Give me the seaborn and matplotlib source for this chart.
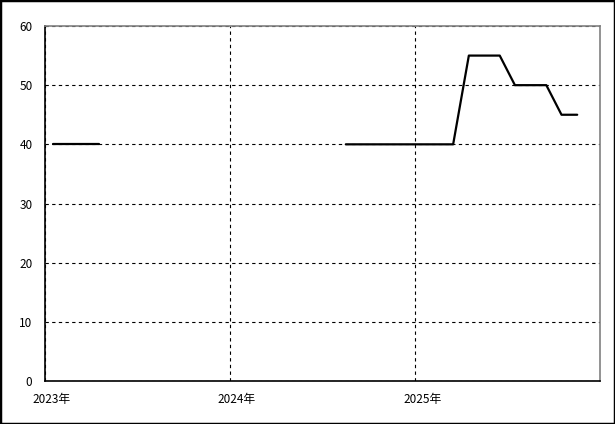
import numpy as np
import pandas as pd
import matplotlib
matplotlib.use("Agg")
import matplotlib.pyplot as plt
import matplotlib.transforms as mtransforms
from matplotlib.patches import Rectangle
import seaborn as sns

# ---- data (monthly, mid-month) ----
months = pd.date_range("2023-01-01", periods=35, freq="MS") + pd.Timedelta(days=16)
values = [40, 40, 40, 40,                                   # 2023-01..04
          None, None, None, None, None, None, None, None,   # 2023-05..12
          None, None, None, None, None, None, None,         # 2024-01..07
          40, 40, 40, 40, 40,                               # 2024-08..12
          40, 40, 40,                                       # 2025-01..03
          55, 55, 55,                                       # 2025-04..06
          50, 50, 50,                                       # 2025-07..09
          45, 45]                                           # 2025-10..11
year_ticks = ["2023-01-01", "2024-01-01", "2025-01-01"]
year_labels = ["2023年", "2024年", "2025年"]
y_ticks = [0, 10, 20, 30, 40, 50, 60]

df = pd.DataFrame({"date": months, "value": pd.array(values, dtype="Float64").astype(float)})
df["seg"] = df["value"].isna().cumsum()
df = df.dropna()

sns.set_style("white")
plt.rcParams["font.family"] = ["Noto Sans CJK JP", "DejaVu Sans"]

fig = plt.figure(figsize=(6.15, 4.24), dpi=100)
ax = fig.add_axes([45/615, 1-381/424, 555/615, 355/424])

sns.lineplot(data=df, x="date", y="value", units="seg", estimator=None,
             color="black", linewidth=1.6, ax=ax, legend=False)

ax.set_xlim(pd.Timestamp("2023-01-01"), pd.Timestamp("2026-01-01"))
ax.set_ylim(0, 60)
ax.set_xticks(pd.to_datetime(year_ticks))
ax.set_xticklabels(year_labels)
ax.set_yticks(y_ticks)
ax.set_xlabel("")
ax.set_ylabel("")

ax.set_axisbelow(True)
ax.grid(True, color="black", linestyle=(0, (3, 3)), linewidth=0.8)

for s in ["left", "bottom"]:
    ax.spines[s].set_color("black")
    ax.spines[s].set_linewidth(1.2)
    ax.spines[s].set_zorder(3)
for s in ["top", "right"]:
    ax.spines[s].set_color("#808080")
    ax.spines[s].set_linewidth(1.2)
    ax.spines[s].set_zorder(3)
    ax.spines[s].set_visible(True)

ax.tick_params(axis="both", length=0, labelsize=8.5, colors="black")
ax.tick_params(axis="y", pad=9)
ax.tick_params(axis="x", pad=9)
offset = mtransforms.ScaledTranslation(7/100, 0, fig.dpi_scale_trans)
for lab in ax.get_xticklabels():
    lab.set_transform(lab.get_transform() + offset)

fig.patches.append(Rectangle((0, 0), 1, 1, transform=fig.transFigure,
                             fill=False, edgecolor="black", linewidth=2.5))

fig.savefig("out.png", dpi=100)
